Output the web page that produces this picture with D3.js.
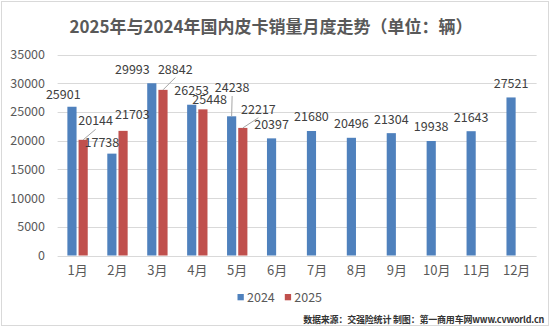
<!DOCTYPE html>
<html><head><meta charset="utf-8">
<script src="https://cdn.jsdelivr.net/npm/d3@7"></script>
<style>
html,body{margin:0;padding:0;background:#fff;}
svg{display:block;font-family:"Noto Sans CJK SC","Noto Sans",sans-serif;}
</style></head>
<body>
<svg id="chart" width="554" height="328"></svg>
<script>
const months = ["1月","2月","3月","4月","5月","6月","7月","8月","9月","10月","11月","12月"];
const seriesNames = ["2024","2025"];
const sales2024 = [25901,17738,29993,26253,24238,20397,21680,20496,21304,19938,21643,27521];
const sales2025 = [20144,21703,28842,25448,22217];
const yTicks = [0,5000,10000,15000,20000,25000,30000,35000];
const colors = {"2024":"#4F81BD","2025":"#C0504D"};

// label nudges (layout only): [dx, dy] from default spot above bar
const labelNudge = {
  "2024-0":[-8.7,2], "2025-0":[12.5,-5],
  "2024-1":[-10,2.5], "2025-1":[9.3,-2],
  "2024-2":[-19.4,0], "2025-2":[12.3,-6.8],
  "2025-3":[6.8,3.9],
  "2024-4":[0.5,-14.8], "2025-4":[15.6,-4.7]
};
const leaders = ["2025-0","2025-2","2024-4","2025-4"];

const svg = d3.select("#chart");
svg.append("rect").attr("x",1.5).attr("y",1.5).attr("width",547).attr("height",324)
  .attr("fill","#fff").attr("stroke","#d9d9d9");

svg.append("text").attr("x",271).attr("y",33).attr("text-anchor","middle")
  .attr("font-size",17).attr("font-weight","bold").attr("fill","#595959")
  .text("2025年与2024年国内皮卡销量月度走势（单位：辆）");

const x = d3.scaleBand().domain(months).range([57.6,536.6]).paddingInner(0).paddingOuter(0);
const bw = x.bandwidth();
const xi = d3.scaleBand().domain(seriesNames).range([bw*0.245,bw*0.755]).paddingInner(0.18).paddingOuter(0);
const y = d3.scaleLinear().domain([0,35000]).range([255.5,54.5]);

// gridlines
svg.append("g").selectAll("line").data(yTicks).join("line")
  .attr("x1",57.6).attr("x2",536.6)
  .attr("y1",d=>Math.round(y(d))+0.5).attr("y2",d=>Math.round(y(d))+0.5)
  .attr("stroke","#d9d9d9").attr("stroke-width",1);

// y axis labels
const yAxis = d3.axisLeft(y).tickValues(yTicks).tickSize(0).tickPadding(0).tickFormat(d3.format("d"));
const gy = svg.append("g").attr("transform","translate(45,0)").call(yAxis);
gy.select(".domain").remove();
gy.selectAll("text").attr("font-size",12.5).attr("fill","#595959").attr("font-family",'"Noto Sans CJK SC",sans-serif');

// x axis labels
const xAxis = d3.axisBottom(x).tickSize(0).tickPadding(0);
const gx = svg.append("g").attr("transform","translate(0,266)").call(xAxis);
gx.select(".domain").remove();
gx.selectAll("text").attr("font-size",13).attr("fill","#595959").attr("font-family",'"Noto Sans CJK SC",sans-serif');

const data = [];
sales2024.forEach((v,i)=>data.push({s:"2024",i,v}));
sales2025.forEach((v,i)=>data.push({s:"2025",i,v}));

svg.append("g").selectAll("rect").data(data).join("rect")
  .attr("x",d=>x(months[d.i])+xi(d.s))
  .attr("y",d=>y(d.v))
  .attr("width",xi.bandwidth())
  .attr("height",d=>y(0)-y(d.v))
  .attr("fill",d=>colors[d.s]);

function labelPos(d){
  const n = labelNudge[d.s+"-"+d.i] || [0,0];
  const cx = x(months[d.i])+xi(d.s)+xi.bandwidth()/2;
  return {bx:cx, by:y(d.v), lx:cx+n[0], ly:y(d.v)-9.5+n[1]};
}

svg.append("g").selectAll("line").data(data.filter(d=>leaders.includes(d.s+"-"+d.i))).join("line")
  .attr("x1",d=>labelPos(d).bx).attr("y1",d=>labelPos(d).by)
  .attr("x2",d=>labelPos(d).lx).attr("y2",d=>labelPos(d).ly+4)
  .attr("stroke","#a6a6a6").attr("stroke-width",1);

svg.append("g").selectAll("text").data(data).join("text")
  .attr("x",d=>labelPos(d).lx).attr("y",d=>labelPos(d).ly)
  .attr("text-anchor","middle").attr("font-size",12.5).attr("fill","#404040")
  .text(d=>d.v);

// legend
const leg = svg.append("g");
const legX = {"2024":237.5,"2025":284.8};
seriesNames.forEach(s=>{
  leg.append("rect").attr("x",legX[s]).attr("y",294).attr("width",6.3).attr("height",6.3).attr("fill",colors[s]);
  leg.append("text").attr("x",legX[s]+9.5).attr("y",301.5).attr("font-size",12.5).attr("fill","#595959").text(s);
});

svg.append("text").attr("x",544).attr("y",322.5).attr("text-anchor","end")
  .attr("font-size",9).attr("font-weight","bold").attr("fill","#333")
  .attr("letter-spacing",-0.2)
  .text("数据来源：交强险统计 制图：第一商用车网www.cvworld.cn");
</script>
</body></html>
